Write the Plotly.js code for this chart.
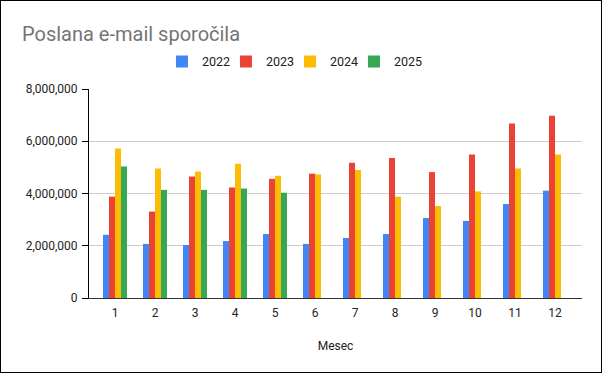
<!DOCTYPE html>
<html>
<head>
<meta charset="utf-8">
<script src="https://cdn.plot.ly/plotly-3.0.1.min.js"></script>
<style>
html,body{margin:0;padding:0;background:#fff;}
#chart{width:600px;height:371px;border:1px solid #000;}
</style>
</head>
<body>
<div id="chart"></div>
<script>
var months = ["1","2","3","4","5","6","7","8","9","10","11","12"];
var s2022 = [2420000,2070000,2030000,2180000,2450000,2070000,2300000,2450000,3060000,2950000,3600000,4110000];
var s2023 = [3880000,3310000,4650000,4230000,4560000,4760000,5180000,5360000,4820000,5490000,6680000,6980000];
var s2024 = [5720000,4960000,4840000,5140000,4680000,4730000,4900000,3880000,3520000,4080000,4960000,5490000];
var s2025 = [5030000,4140000,4140000,4190000,4030000,null,null,null,null,null,null,null];
var seriesNames = ["2022","2023","2024","2025"];
var colors = ["#4285F4","#EA4335","#FBBC04","#34A853"];
var allSeries = [s2022,s2023,s2024,s2025];

var traces = allSeries.map(function(s,i){
  return {type:"bar", name:seriesNames[i], x:months, y:s,
    marker:{color:colors[i], line:{width:0}},
    hoverinfo:"x+y"};
});
// empty spacer entry so the last legend label is not clipped
traces.push({type:"scatter", mode:"markers", name:" ", x:[null], y:[null],
  marker:{color:"rgba(0,0,0,0)", size:1, line:{width:0}}, showlegend:true, hoverinfo:"skip"});

var layout = {
  width:600, height:371,
  margin:{l:88, r:19, t:88, b:74},
  paper_bgcolor:"#fff", plot_bgcolor:"#fff",
  font:{family:"Roboto, Arial, sans-serif", color:"#222", size:12},
  title:{text:"Poslana e-mail sporočila", x:0.035, xanchor:"left", y:0.91, yanchor:"middle",
    font:{family:"Roboto, Arial, sans-serif", size:20, color:"#757575"}},
  barmode:"group", bargap:0.4, bargroupgap:0,
  showlegend:true,
  legend:{orientation:"h", x:0.148, xanchor:"left", y:1.13, yanchor:"middle",
    font:{size:12.5, color:"#222"}, itemwidth:30, entrywidth:19, traceorder:"normal"},
  xaxis:{type:"category", range:[-0.65,11.675], showgrid:false, ticks:"",
    showline:true, linecolor:"#333", linewidth:1, ticklabelstandoff:4,
    tickfont:{size:12, color:"#222"},
    title:{text:"Mesec", font:{size:12, color:"#222"}, standoff:22}},
  yaxis:{range:[0,8000000], dtick:2000000, tickformat:",", showgrid:true, gridcolor:"#cccccc",
    showline:true, linecolor:"#000", linewidth:1, ticks:"outside", ticklen:6, tickcolor:"#000",
    ticklabelstandoff:2,
    zeroline:false, tickfont:{size:12, color:"#222"}}
};

Plotly.newPlot("chart", traces, layout, {displayModeBar:false, staticPlot:true});
</script>
</body>
</html>
